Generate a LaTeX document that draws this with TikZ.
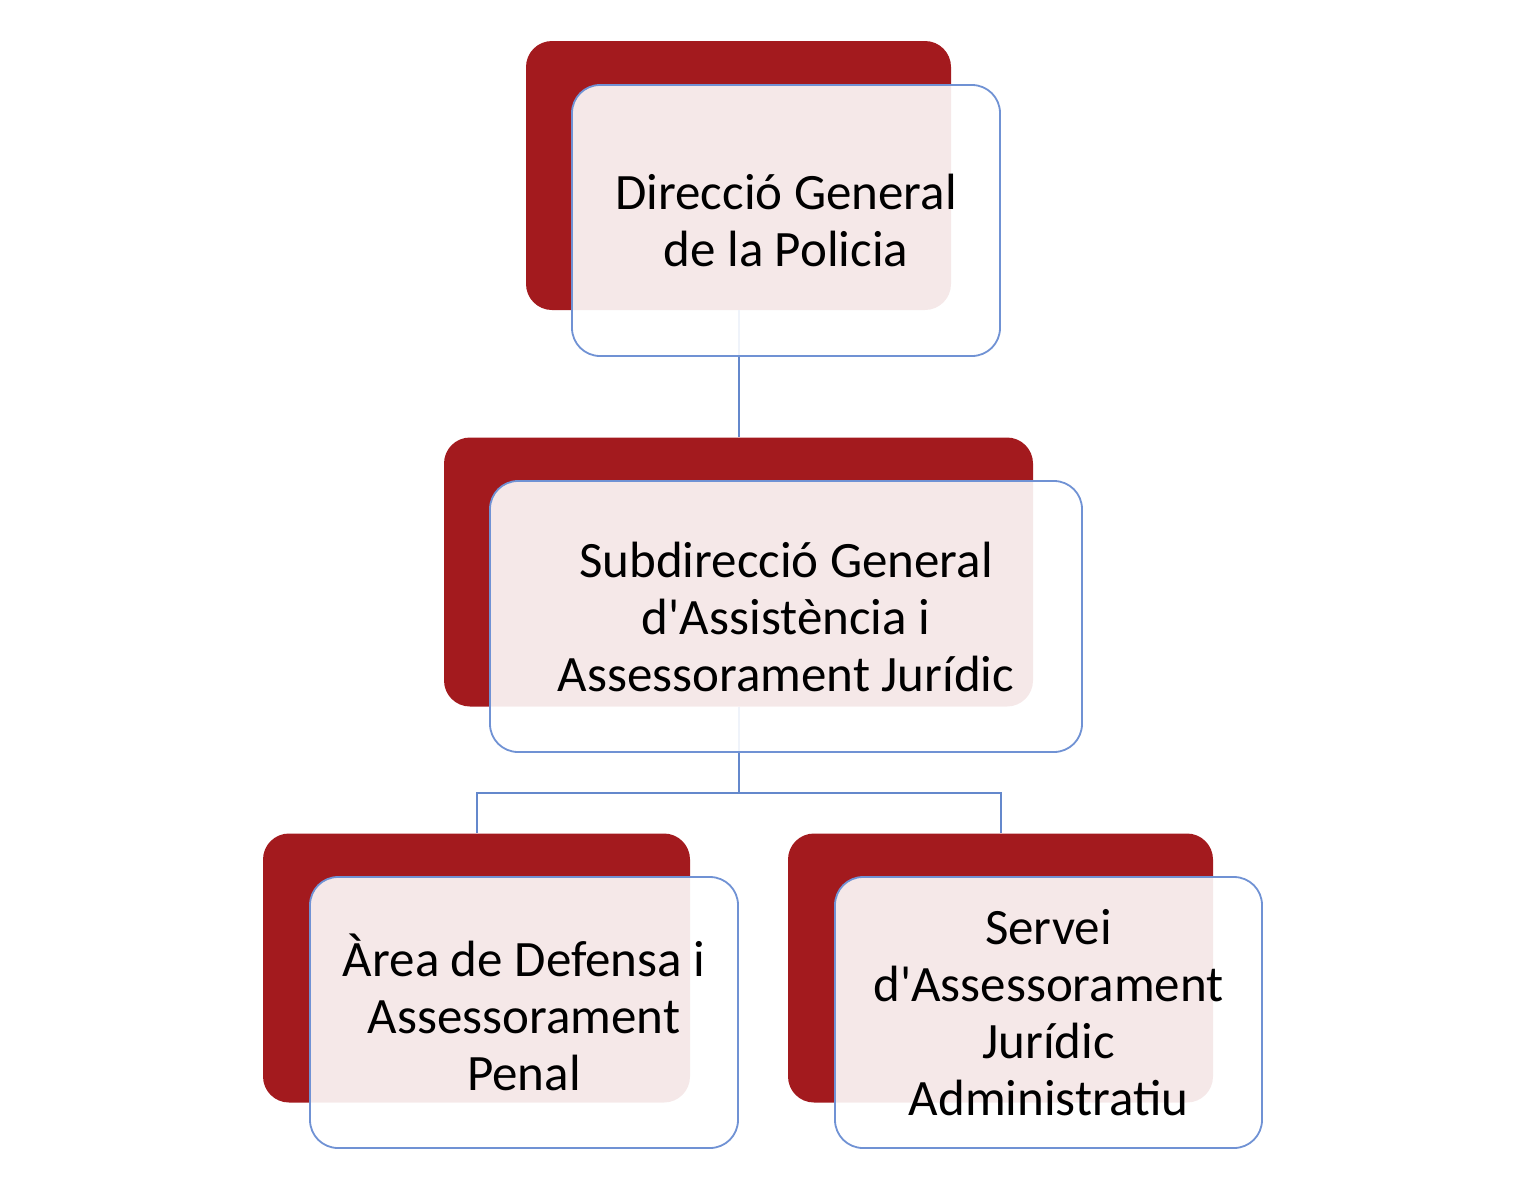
\documentclass[tikz,border=0pt]{standalone}
\usepackage{fontspec}
\newfontfamily\boxfont{Carlito}
\definecolor{boxred}{RGB}{163,26,30}
\definecolor{boxblue}{RGB}{112,146,212}
\definecolor{connblue}{RGB}{100,136,204}
\begin{document}
\begin{tikzpicture}[x=1pt,y=-1pt,
  redbox/.style={draw=none,fill=boxred,rounded corners=26pt,minimum width=#1,minimum height=269pt,inner sep=0pt},
  frontbox/.style={draw=boxblue,line width=1.8pt,fill=white,fill opacity=0.9,text opacity=1,rounded corners=28pt,minimum width=#1,minimum height=271pt,inner sep=0pt,align=center,font=\boxfont\fontsize{51}{57}\selectfont},
  conn/.style={draw=connblue,line width=2pt}]
\useasboundingbox (0,0) rectangle (1537,1200);
\node[redbox=425pt] (r1) at (738.5,175.5) {};
\node[redbox=589pt] (r2) at (738.5,572) {};
\node[redbox=427pt] (r3) at (476.5,968) {};
\node[redbox=425pt] (r4) at (1000.5,968) {};
\coordinate (j) at (738.5,793);
\draw[conn] (r1.south) -- (r2.north);
\draw[conn] (r2.south) -- (j) -| (r3.north);
\draw[conn] (j) -| (r4.north);
\node[frontbox=428pt] (f1) at (786,220.5) {Direcció General\\de la Policia};
\node[frontbox=592pt] (f2) at (786,616.5) {Subdirecció General\\d'Assistència i\\Assessorament Jurídic};
\node[frontbox=428pt] (f3) at (524,1012.5) {Àrea de Defensa i\\Assessorament\\Penal};
\node[frontbox=427pt] (f4) at (1048.5,1012.5) {Servei\\d'Assessorament\\Jurídic\\Administratiu};
\end{tikzpicture}
\end{document}
